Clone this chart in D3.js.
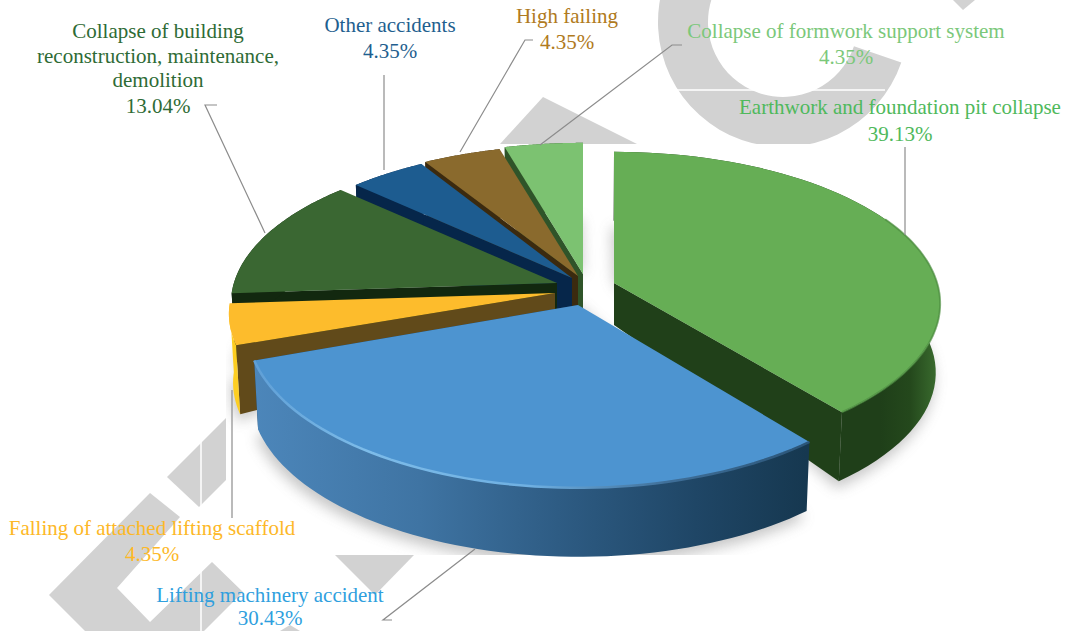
<!DOCTYPE html>
<html><head><meta charset="utf-8">
<script src="https://cdn.jsdelivr.net/npm/d3@7"></script>
<style>html,body{margin:0;padding:0;background:#fff}svg{display:block}text{font-family:"Liberation Serif",serif;font-size:21px;text-anchor:middle}</style>
</head><body><div id="c"></div>
<script>
// DATA
const categories = ["Earthwork and foundation pit collapse","Lifting machinery accident","Falling of attached lifting scaffold","Collapse of building reconstruction, maintenance, demolition","Other accidents","High failing","Collapse of formwork support system"];
const shares = [39.13,30.43,4.35,13.04,4.35,4.35,4.35];
const shareLabels = ["39.13%","30.43%","4.35%","13.04%","4.35%","4.35%","4.35%"];

// LAYOUT / STYLE
const W=1069,H=631;
const apexes=[[614,283],[578,305],[555,293],[557,283],[572,278],[578,276],[583,274]];
const widthScale=[0.985,1,0.985,0.985,0.985,1,1];
const heightScale=[1,1.06,1,1,1,1,1];
const topCol=["#66ae55","#4d94d0","#fdbc2c","#3a6732","#1d5c90","#8a6a2d","#7cc271"];
const faceCol=["#204019","#1d3f5c","#614a1a","#12280f","#06264a","#3b2a0f","#2f5429"];
const textCol=["#4fb95c","#2f9fde","#fdb827","#2e6b35","#1f5f8f","#b07a20","#7bc87a"];
const drawOrder=[6,5,4,3,2,0,1];
const labelLines=[
 {i:0,x:900,ys:[114,141],lines:["Earthwork and foundation pit collapse"]},
 {i:1,x:270,ys:[602,625],lines:["Lifting machinery accident"]},
 {i:2,x:152,ys:[535,561],lines:["Falling of attached lifting scaffold"]},
 {i:3,x:158,ys:[38,63,87,113],lines:["Collapse of building","reconstruction, maintenance,","demolition"]},
 {i:4,x:390,ys:[32,58],lines:["Other accidents"]},
 {i:5,x:567,ys:[23,49],lines:["High failing"]},
 {i:6,x:846,ys:[38,64],lines:["Collapse of formwork support system"]}];
const leaders=[[[905,147],[905,235]],[[392,620],[383,620],[475,549]],[[232,518],[232,390]],[[217,105],[205,105],[265,233]],[[384,75],[384,170]],[[533,40],[525,40],[460,152]],[[682,45],[672,45],[540,145]]];
const wmPolys=[
 [[500,144],[543,97],[637,144]],
 [[953,0],[963,10],[975,0]],
 [[167,477],[226,418],[226,480],[199,507]],
 [[49,595],[150,493],[180,517],[117,588],[150,622],[212,562],[243,592],[204,631],[85,631]],
 [[335,555],[414,555],[375,595]],
 [[280,631],[290,625],[300,631]]];
const Rx=328,Ry=149,persp=0.136,apexDrop=42,rimDrop=27,shrink=0.012,vanish=578;

const sx=d3.scaleLinear().domain([-1,1]).range([-Rx,Rx]);
const sy=d3.scaleLinear().domain([-1,1]).range([-Ry,Ry]);
const arcs=d3.pie().sort(null).startAngle(0).endAngle(2*Math.PI).value(d=>d)(shares);

function pt(i,a,r,down){
  const X=r*Math.sin(a),Y=-r*Math.cos(a),w=1/(1-persp*Y);
  let x=apexes[i][0]+sx(X)*w*widthScale[i],y=apexes[i][1]+sy(Y)*w*heightScale[i];
  if(down){y+=apexDrop+rimDrop*r;x+=(vanish-x)*shrink*r;}
  return [x,y];
}
const rim=(i,a0,a1,down)=>d3.range(0,61).map(k=>pt(i,a0+(a1-a0)*k/60,1,down));
const line=d3.line();
const svg=d3.select("#c").append("svg").attr("width",W).attr("height",H);
const defs=svg.append("defs");
defs.append("filter").attr("id","blur").attr("x","-20%").attr("y","-20%").attr("width","140%").attr("height","140%")
  .append("feGaussianBlur").attr("stdDeviation",7);
defs.append("clipPath").attr("id","panel").append("rect").attr("x",226).attr("y",144).attr("width",730).attr("height",411);
const g1=defs.append("linearGradient").attr("id","blueSide").attr("gradientUnits","userSpaceOnUse").attr("x1",254).attr("x2",806).attr("y1",0).attr("y2",0);
[[0,"#4c86ba"],[.3,"#3f74a3"],[.55,"#2e5c84"],[.8,"#1f4666"],[1,"#163850"]].forEach(s=>g1.append("stop").attr("offset",s[0]).attr("stop-color",s[1]));
const g2=defs.append("linearGradient").attr("id","greenSide").attr("gradientUnits","userSpaceOnUse").attr("x1",940).attr("x2",880).attr("y1",0).attr("y2",0);
[[0,"#3c6f30"],[.5,"#24481c"],[1,"#1f3f19"]].forEach(s=>g2.append("stop").attr("offset",s[0]).attr("stop-color",s[1]));
const g3=defs.append("linearGradient").attr("id","rimGlow").attr("gradientUnits","userSpaceOnUse").attr("x1",254).attr("x2",806).attr("y1",0).attr("y2",0);
[[0,"#5f9fd6"],[.2,"#7dbce9"],[.5,"#6fb0e2"],[.75,"#3f6f99"],[1,"#2b5578"]].forEach(s=>g3.append("stop").attr("offset",s[0]).attr("stop-color",s[1]));

// watermark
const wm=svg.append("g").attr("fill","#d2d2d2");
wm.append("path").attr("transform","translate(783,22)")
  .attr("d",d3.arc().innerRadius(75).outerRadius(125).startAngle(1.9).endAngle(2*Math.PI+0.35)());
wmPolys.forEach(p=>wm.append("path").attr("d",line(p)+"Z"));
svg.append("line").attr("x1",677).attr("x2",885).attr("y1",90).attr("y2",90).attr("stroke","#fff").attr("stroke-width",1.5);
svg.append("line").attr("x1",201).attr("x2",201).attr("y1",440).attr("y2",631).attr("stroke","#fff").attr("stroke-width",1.5);
svg.append("rect").attr("x",226).attr("y",144).attr("width",730).attr("height",411).attr("fill","#fff");

// shadow
const shadow=svg.append("g").attr("clip-path","url(#panel)").append("g").attr("filter","url(#blur)").attr("opacity",.42).attr("fill","#777");
arcs.forEach((d,i)=>{
  const low=rim(i,d.startAngle,d.endAngle,true).map(p=>[p[0]-2,p[1]+7]);
  shadow.append("path").attr("d",line([pt(i,d.startAngle,0,false),...low])+"Z");
});

// slices
drawOrder.forEach(i=>{
  const d=arcs[i],a0=d.startAngle,a1=d.endAngle,g=svg.append("g");
  const apexT=pt(i,a0,0,false),apexB=[apexT[0],apexT[1]+apexDrop];
  const face=a=>[apexT,pt(i,a,1,false),pt(i,a,1,true),apexB];
  g.append("path").attr("d",line(face(i<2?a1:a0))+"Z").attr("fill",faceCol[i]);
  const wall=[...rim(i,a0,a1,false),...rim(i,a1,a0,true)];
  g.append("path").attr("d",line(wall)+"Z").attr("fill",i===1?"url(#blueSide)":i===0?"url(#greenSide)":i===2?"#fdce22":faceCol[i]);
  g.append("path").attr("d",line([apexT,...rim(i,a0,a1,false)])+"Z").attr("fill",topCol[i]);
  if(i===1){
    g.append("path").attr("d",line(rim(i,a0,a1,false))).attr("fill","none").attr("stroke","url(#rimGlow)").attr("stroke-width",2.5);
  }
  if(i===0){
    g.append("path").attr("d",line(rim(i,a0+1.1,a1,false))).attr("fill","none").attr("stroke","#4f9042").attr("stroke-width",2).attr("opacity",.7);
  }
});

// leaders
leaders.forEach(p=>svg.append("path").attr("d",line(p)).attr("fill","none").attr("stroke","#8c8c8c").attr("stroke-width",1.2));

// labels
labelLines.forEach(l=>{
  const rows=[...l.lines,shareLabels[l.i]];
  rows.forEach((t,k)=>svg.append("text").attr("x",l.x).attr("y",l.ys[k]).attr("fill",textCol[l.i]).text(t));
});
</script></body></html>
